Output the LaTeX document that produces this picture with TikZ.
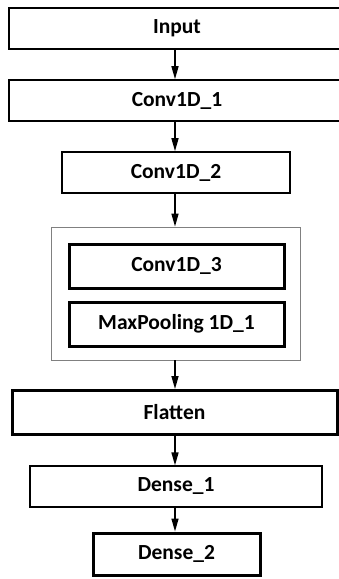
\documentclass[tikz,border=0pt]{standalone}
\usepackage{fontspec}
\setmainfont{Carlito}
\usetikzlibrary{arrows.meta}
\begin{document}
\begin{tikzpicture}[x=1pt,y=-1pt, every node/.style={font=\bfseries\fontsize{21.5}{24}\selectfont, inner sep=0pt},
  layer/.style={draw, line width=1.6pt, minimum height=41pt},
  biglayer/.style={draw, line width=3pt, minimum height=44pt},
  arr/.style={line width=1.5pt, -{Triangle[length=13pt,width=7pt]}}]
 		\useasboundingbox (0,0) rectangle (339,579);
 		\node[layer, minimum width=336pt] (IN)  at (177,28.5) {Input};
 		\node[layer, minimum width=336pt] (C1)  at (177,100.5) {Conv1D\_1};
 		\node[layer, minimum width=228pt] (C2)  at (176,172.5) {Conv1D\_2};
 		\node[draw=gray, line width=0.8pt, minimum width=249pt, minimum height=133pt] (BLK) at (175.5,293.5) {};
 		\node[biglayer, minimum width=215pt] (C3)  at (176.5,266) {Conv1D\_3};
 		\node[biglayer, minimum width=215pt] (MP)  at (176.5,324) {MaxPooling 1D\_1};
 		\node[biglayer, minimum width=325pt] (FL)  at (174.5,412.5) {Flatten};
 		\node[layer, line width=1.2pt, minimum width=292pt] (D1)  at (176,486.5) {Dense\_1};
 		\node[biglayer, minimum width=167pt, minimum height=42pt] (D2)  at (176.5,554) {Dense\_2};
 		
 		\draw[arr] (IN.south -| 175,0) -- (C1.north -| 175,0);
 		\draw[arr] (C1.south -| 175,0) -- (C2.north -| 175,0);
 		\draw[arr] (C2.south -| 175,0) -- (BLK.north -| 175,0);
 		\draw[arr] (BLK.south -| 175,0) -- (FL.north -| 175,0);
 		\draw[arr] (FL.south -| 175,0) -- (D1.north -| 175,0);
 		\draw[arr] (D1.south -| 175,0) -- (D2.north -| 175,0);
 		
 	\end{tikzpicture}
\end{document}
